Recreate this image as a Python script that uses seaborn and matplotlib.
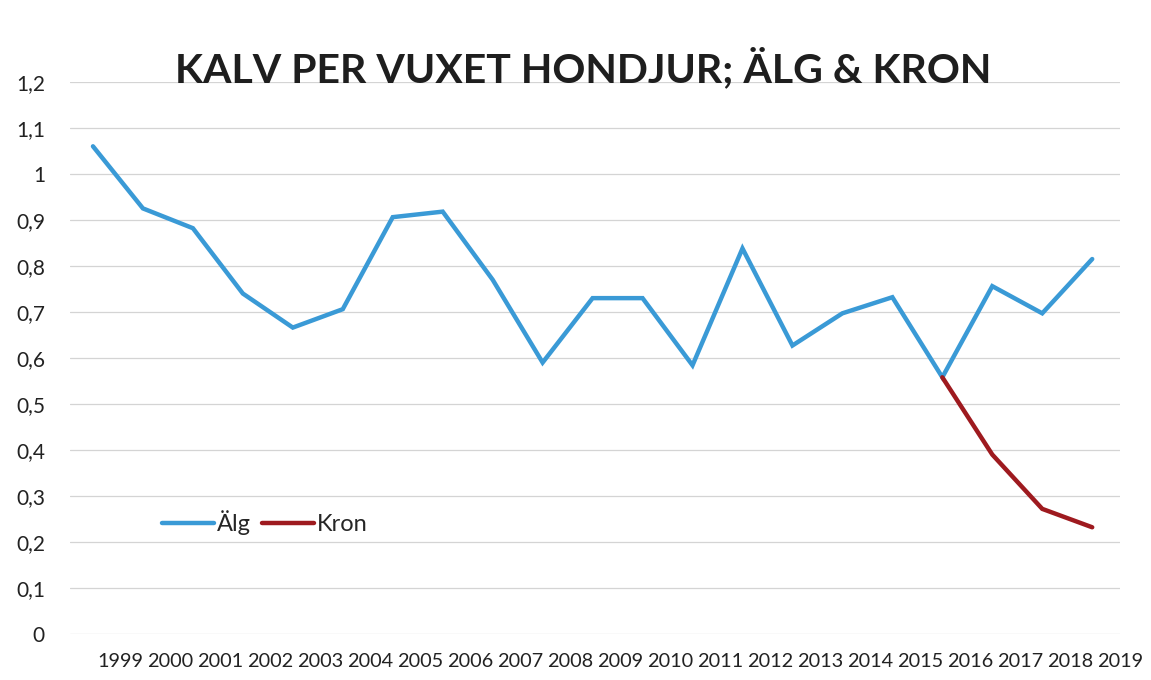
import numpy as np
import pandas as pd
import matplotlib
matplotlib.use("Agg")
import matplotlib.pyplot as plt
import seaborn as sns

years = list(range(1999, 2020))
alg = [1.06, 0.925, 0.882, 0.74, 0.666, 0.706, 0.906, 0.918, 0.77, 0.59,
       0.73, 0.73, 0.584, 0.838, 0.627, 0.697, 0.732, 0.558, 0.756, 0.697, 0.815]
kron_years = [2016, 2017, 2018, 2019]
kron = [0.558, 0.39, 0.272, 0.232]
y_ticks = [0, 0.1, 0.2, 0.3, 0.4, 0.5, 0.6, 0.7, 0.8, 0.9, 1.0, 1.1, 1.2]
y_labels = ["0", "0,1", "0,2", "0,3", "0,4", "0,5", "0,6", "0,7", "0,8", "0,9", "1", "1,1", "1,2"]
title = "KALV PER VUXET HONDJUR; ÄLG & KRON"

sns.set_theme(style="white")
plt.rcParams["font.family"] = ["Lato", "DejaVu Sans"]

fig = plt.figure(figsize=(11.51, 6.8), dpi=100)
ax = fig.add_axes([0.0608, 0.0676, 0.912, 0.812])

df_alg = pd.DataFrame({"year": years, "value": alg})
df_kron = pd.DataFrame({"year": kron_years, "value": kron})

for yt in y_ticks:
    ax.axhline(yt, color="#d4d4d4", lw=0.9, zorder=0)

sns.lineplot(data=df_alg, x="year", y="value", ax=ax, color="#3a9ad6", lw=3.2,
             label="Älg", solid_joinstyle="miter")
sns.lineplot(data=df_kron, x="year", y="value", ax=ax, color="#9e1a1f", lw=3.2,
             label="Kron", solid_joinstyle="miter")

ax.set_xlim(years[0] - 0.46, years[-1] + 0.46)
ax.set_ylim(0, 1.2)
ax.set_yticks(y_ticks)
ax.set_yticklabels(y_labels)
ax.set_xticks([y + 0.55 for y in years])
ax.set_xticklabels([str(y) for y in years])
ax.tick_params(axis="both", length=0, colors="#222222")
ax.tick_params(axis="x", pad=14, labelsize=14.3)
ax.tick_params(axis="y", pad=18, labelsize=15)
ax.set_xlabel("")
ax.set_ylabel("")
for s in ax.spines.values():
    s.set_visible(False)

leg = ax.legend(loc="center left", bbox_to_anchor=(0.067, 0.201), ncol=2, frameon=False,
                fontsize=17, handlelength=2.2, handletextpad=0.15, columnspacing=0.45)

fig.text(0.507, 0.90, title, ha="center", va="center", fontsize=29.5, fontweight="bold",
         color="#1e1e1e")

fig.savefig("out.png", dpi=100, facecolor="white")
